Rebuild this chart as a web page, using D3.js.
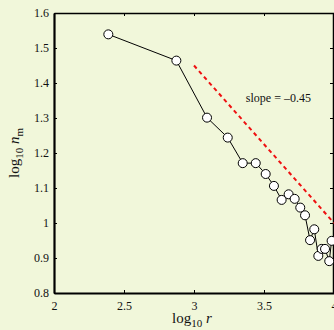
<!DOCTYPE html>
<html>
<head>
<meta charset="utf-8">
<script src="https://cdn.jsdelivr.net/npm/d3@7"></script>
<style>
  html, body { margin: 0; padding: 0; background: #f1f7da; }
  svg { display: block; }
  text { font-family: "Liberation Serif", "DejaVu Serif", serif; fill: #111; }
</style>
</head>
<body>
<div id="chart"></div>
<script>
// log10 r and log10 n_m
const logR = [2.388, 2.874, 3.093, 3.241, 3.348, 3.441, 3.512, 3.571, 3.626, 3.676,
  3.719, 3.759, 3.793, 3.829, 3.859, 3.888, 3.912, 3.936, 3.966, 3.983];
const logN = [1.539, 1.464, 1.301, 1.244, 1.171, 1.171, 1.140, 1.106, 1.066, 1.082,
  1.069, 1.044, 1.022, 0.951, 0.982, 0.906, 0.926, 0.926, 0.891, 0.949];

// reference slope line
const slopeX = [3, 4];
const slopeY = [1.45, 1.0];
const slopeLabel = "slope = \u20130.45";

const xTicks = [2, 2.5, 3, 3.5, 4];
const yTicks = [0.8, 0.9, 1, 1.1, 1.2, 1.3, 1.4, 1.5, 1.6];

const width = 334, height = 330;
const margin = { left: 54, top: 13, right: 0, bottom: 37 };

const x = d3.scaleLinear().domain([2, 4]).range([margin.left, margin.left + 280]);
const y = d3.scaleLinear().domain([0.8, 1.6]).range([height - margin.bottom, margin.top]);

const svg = d3.select("#chart").append("svg")
  .attr("width", width)
  .attr("height", height);

svg.append("rect")
  .attr("width", width).attr("height", height)
  .attr("fill", "#f1f7da");

// axes, matlab style: ticks inside, box around
const fmt = d => String(d);

const gx = svg.append("g")
  .attr("transform", "translate(0," + y(0.8) + ")")
  .call(d3.axisBottom(x).tickValues(xTicks).tickSizeInner(-3).tickSizeOuter(0).tickPadding(8).tickFormat(fmt));
const gy = svg.append("g")
  .attr("transform", "translate(" + x(2) + ",0)")
  .call(d3.axisLeft(y).tickValues(yTicks).tickSizeInner(-3).tickSizeOuter(0).tickPadding(5).tickFormat(fmt));
const gxTop = svg.append("g")
  .attr("transform", "translate(0," + y(1.6) + ")")
  .call(d3.axisTop(x).tickValues(xTicks).tickSizeInner(-3).tickSizeOuter(0).tickFormat(""));
const gyRight = svg.append("g")
  .attr("transform", "translate(" + (x(4) - 1) + ",0)")
  .call(d3.axisRight(y).tickValues(yTicks).tickSizeInner(-3).tickSizeOuter(0).tickFormat(""));

[gx, gy, gxTop, gyRight].forEach(g => {
  g.selectAll("line").attr("stroke", "#000").attr("stroke-width", 1);
  g.selectAll("text").attr("font-size", 12).attr("font-family", "Liberation Serif").attr("fill", "#111");
});
gx.select(".domain").attr("stroke", "#000").attr("stroke-width", 2.2);
gy.select(".domain").attr("stroke", "#000").attr("stroke-width", 2.2);
gxTop.select(".domain").attr("stroke", "#000").attr("stroke-width", 1.5);
gyRight.select(".domain").attr("stroke", "#000").attr("stroke-width", 1.5);

// slope line
svg.append("line")
  .attr("x1", x(slopeX[0])).attr("y1", y(slopeY[0]))
  .attr("x2", x(slopeX[1])).attr("y2", y(slopeY[1]))
  .attr("stroke", "#ee1111")
  .attr("stroke-width", 2)
  .attr("stroke-dasharray", "4,3.5");

svg.append("text")
  .attr("x", x(3.37)).attr("y", y(1.358))
  .attr("dy", "0.35em")
  .attr("font-size", 12)
  .text(slopeLabel);

// data
const pts = logR.map((r, i) => [r, logN[i]]);

svg.append("path")
  .datum(pts)
  .attr("fill", "none")
  .attr("stroke", "#000")
  .attr("stroke-width", 1)
  .attr("d", d3.line().x(d => x(d[0])).y(d => y(d[1])));

svg.selectAll("circle.pt")
  .data(pts)
  .enter()
  .append("circle")
  .attr("class", "pt")
  .attr("cx", d => x(d[0]))
  .attr("cy", d => y(d[1]))
  .attr("r", 4.5)
  .attr("fill", "#fff")
  .attr("stroke", "#000")
  .attr("stroke-width", 1);

// axis labels
const xl = svg.append("text")
  .attr("x", 192).attr("y", 323)
  .attr("text-anchor", "middle")
  .attr("font-size", 15);
xl.append("tspan").text("log");
xl.append("tspan").attr("font-size", 11).attr("dy", 4).text("10");
xl.append("tspan").attr("dy", -4).text(" ");
xl.append("tspan").attr("font-style", "italic").text("r");

const yl = svg.append("text")
  .attr("transform", "translate(19,153) rotate(-90)")
  .attr("text-anchor", "middle")
  .attr("font-size", 15);
yl.append("tspan").text("log");
yl.append("tspan").attr("font-size", 11).attr("dy", 4).text("10");
yl.append("tspan").attr("dy", -4).text(" ");
yl.append("tspan").attr("font-style", "italic").text("n");
yl.append("tspan").attr("font-size", 11).attr("dy", 4).text("m");
</script>
</body>
</html>
